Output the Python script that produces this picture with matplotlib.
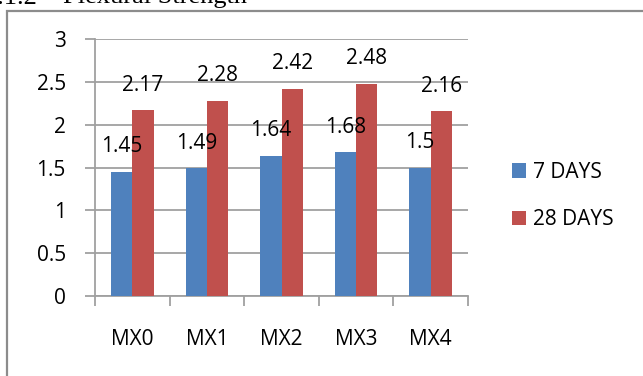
import matplotlib
matplotlib.use("Agg")
import matplotlib.pyplot as plt
import numpy as np
from matplotlib.patches import Rectangle

plt.rcParams['font.family'] = ['Open Sans', 'DejaVu Sans']

# Flexural strength results (N/mm^2)
mixes = ["MX0", "MX1", "MX2", "MX3", "MX4"]
series_names = ["7 DAYS", "28 DAYS"]
days7 = [1.45, 1.49, 1.64, 1.68, 1.5]
days28 = [2.17, 2.28, 2.42, 2.48, 2.16]
y_ticks = [0, 0.5, 1, 1.5, 2, 2.5, 3]

W, H, DPI = 643, 376, 100
fig = plt.figure(figsize=(W / DPI, H / DPI), dpi=DPI)

# outer chart frame
frame = Rectangle((7 / W, -0.1), 1.2, (H - 11) / H + 0.1, transform=fig.transFigure,
                  fill=False, edgecolor="#8c8c8c", linewidth=1.6, zorder=0)
fig.patches.append(frame)

# section heading above the chart
fig.text(52 / W, 1 - 3.5 / H, "4.1.2 -", fontsize=19, family="Liberation Serif",
         ha="right", va="baseline")
fig.text(63 / W, 1 - 3.5 / H, "Flexural Strength", fontsize=19, family="Liberation Serif",
         ha="left", va="baseline")

ax_l, ax_r, ax_t, ax_b = 95, 468, 39, 296
ax = fig.add_axes([ax_l / W, 1 - ax_b / H, (ax_r - ax_l) / W, (ax_b - ax_t) / H])

x = np.arange(len(mixes))
bw = 0.285
blue, red = "#4F81BD", "#C0504D"
b1 = ax.bar(x - bw / 2, days7, bw, color=blue, label=series_names[0], zorder=3)
b2 = ax.bar(x + bw / 2, days28, bw, color=red, label=series_names[1], zorder=3)

for bars, vals in ((b1, days7), (b2, days28)):
    for rect, v in zip(bars, vals):
        ax.annotate(f"{v:g}", (rect.get_x() + rect.get_width() / 2, v),
                    xytext=(0, 14), textcoords="offset points",
                    ha="center", va="baseline", fontsize=15, zorder=5)

ax.set_xlim(-0.5, len(mixes) - 0.5)
ax.set_ylim(0, 3)
ax.set_yticks(y_ticks)
ax.set_yticklabels([f"{t:g}" for t in y_ticks], fontsize=15)
ax.yaxis.grid(True, color="#a0a0a0", linewidth=1.3, zorder=0)
ax.set_axisbelow(True)

# category boundaries carry the tick marks; labels sit at category centres
ax.set_xticks(np.arange(-0.5, len(mixes), 1.0))
ax.set_xticklabels([])
ax.set_xticks(x, minor=True)
ax.set_xticklabels(mixes, minor=True, fontsize=15)
ax.tick_params(axis="x", which="major", length=7, width=1.3, color="#a0a0a0", direction="out")
ax.tick_params(axis="x", which="minor", length=0, pad=24)
ax.tick_params(axis="y", length=7, width=1.3, color="#a0a0a0", pad=14)

for s in ("top", "right"):
    ax.spines[s].set_visible(False)
for s in ("left", "bottom"):
    ax.spines[s].set_color("#a0a0a0")
    ax.spines[s].set_linewidth(1.3)

fig.legend(handles=[b1, b2], labels=series_names, loc="center left",
           bbox_to_anchor=(497 / W, 1 - 196 / H), frameon=False, fontsize=15,
           handlelength=0.68, handleheight=0.68, handletextpad=0.35,
           labelspacing=1.28, borderpad=0.2)

fig.savefig("out.png", dpi=DPI)
